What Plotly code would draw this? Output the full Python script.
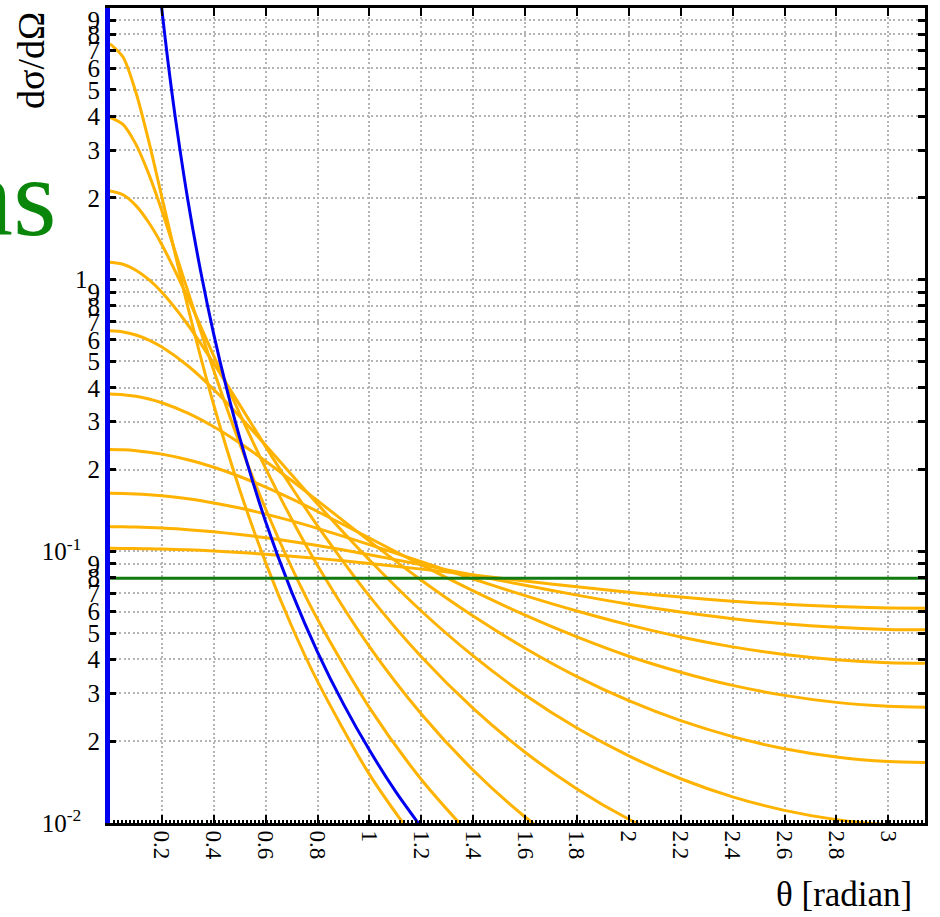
import plotly.graph_objects as go

# scattering angle grid (radian) shared by the screened curves
theta = [0, 0.05, 0.1, 0.15, 0.2, 0.3, 0.4, 0.5, 0.6, 0.7, 0.8, 1.0, 1.2,
         1.4, 1.6, 1.8, 2.0, 2.2, 2.4, 2.6, 2.8, 3.0, 3.1416]

# screened (Yukawa-type) angular distributions, strongest screening last
screened_1 = [7.38, 6.60, 4.885, 3.215, 2.014, 0.794, 0.3456, 0.1686, 0.0909, 0.0531, 0.0332, 0.0151, 0.00807]
screened_2 = [3.961, 3.730, 3.147, 2.441, 1.793, 0.9073, 0.4629, 0.2493, 0.1432, 0.0873, 0.0562, 0.0266, 0.01446, 0.00878]
screened_3 = [2.120, 2.054, 1.873, 1.620, 1.345, 0.8572, 0.5237, 0.3211, 0.2020, 0.1315, 0.0887, 0.0446, 0.0252,
              0.01564, 0.01052, 0.00757]
screened_4 = [1.158, 1.139, 1.083, 1.000, 0.8988, 0.6824, 0.4915, 0.3460, 0.2429, 0.1722, 0.1241, 0.0684, 0.0409,
              0.0264, 0.01822, 0.01335, 0.01032, 0.00837]
screened_5 = [0.648, 0.6423, 0.6255, 0.5990, 0.5647, 0.4820, 0.3943, 0.3137, 0.2458, 0.1914, 0.1493, 0.0929, 0.0603,
              0.0412, 0.0296, 0.02236, 0.01766, 0.01455, 0.01248, 0.01113, 0.01029, 0.00986, 0.00977]
screened_6 = [0.3791, 0.3773, 0.3721, 0.3636, 0.3522, 0.3226, 0.2874, 0.2504, 0.2147, 0.1822, 0.1537, 0.1090, 0.0783,
              0.0578, 0.0440, 0.0346, 0.0282, 0.0238, 0.0208, 0.01877, 0.01750, 0.01684, 0.01671]
screened_7 = [0.2370, 0.2364, 0.2347, 0.2318, 0.2279, 0.2174, 0.2039, 0.1886, 0.1723, 0.1560, 0.1402, 0.1120, 0.0891,
              0.0715, 0.0582, 0.0484, 0.0411, 0.0359, 0.0321, 0.0295, 0.0278, 0.0269, 0.0267]
screened_8 = [0.1635, 0.1633, 0.1627, 0.1616, 0.1601, 0.1561, 0.1507, 0.1443, 0.1371, 0.1294, 0.1215, 0.1059, 0.0916,
              0.0791, 0.0687, 0.0603, 0.0536, 0.0484, 0.0445, 0.0417, 0.0399, 0.0389, 0.0387]
screened_9 = [0.1232, 0.1231, 0.1228, 0.1224, 0.1218, 0.1202, 0.1180, 0.1153, 0.1122, 0.1087, 0.1050, 0.0972, 0.0893,
              0.0818, 0.0750, 0.0690, 0.0639, 0.0598, 0.0565, 0.0541, 0.0525, 0.0516, 0.0514]
screened_10 = [0.1026, 0.1025, 0.1024, 0.1022, 0.1020, 0.1013, 0.1003, 0.0990, 0.0976, 0.0960, 0.0942, 0.0902, 0.0860,
               0.0818, 0.0777, 0.0740, 0.0707, 0.0679, 0.0655, 0.0638, 0.0626, 0.0619, 0.0617]

# unscreened Coulomb (Rutherford) curve
theta_coulomb = [0.19, 0.2, 0.225, 0.25, 0.3, 0.35, 0.4, 0.45, 0.5, 0.6, 0.7, 0.8, 0.9, 1.0, 1.1, 1.2]
coulomb = [12.1, 9.87, 6.17, 4.06, 1.965, 1.067, 0.629, 0.396, 0.262, 0.1285, 0.0709, 0.0426, 0.0274,
           0.01855, 0.0131, 0.00964]

# isotropic limit 1/(4 pi)
theta_iso = [0, 3.1416]
isotropic = [0.0796, 0.0796]

# tick labels
x_tickvals = [0.2, 0.4, 0.6, 0.8, 1.0, 1.2, 1.4, 1.6, 1.8, 2.0, 2.2, 2.4, 2.6, 2.8, 3.0]
x_ticktext = ["0.2", "0.4", "0.6", "0.8", "1", "1.2", "1.4", "1.6", "1.8", "2", "2.2", "2.4", "2.6", "2.8", "3"]
y_tickvals = [m * 10.0 ** e for e in (-2, -1, 0) for m in range(1, 10)]
NB = "\u00a0"
y_ticktext = (["10<sup>-2</sup>" + NB * 3] + [str(m) for m in range(2, 10)]
              + ["10<sup>-1</sup>" + NB * 3] + [str(m) for m in range(2, 10)]
              + ["1" + NB * 2] + [str(m) for m in range(2, 10)])

ORANGE = "#FFB300"
BLUE = "#0000F0"
GREEN = "#117A11"
FONT = "Liberation Serif"

fig = go.Figure()

screened = [screened_1, screened_2, screened_3, screened_4, screened_5,
            screened_6, screened_7, screened_8, screened_9, screened_10]
for vals in screened:
    fig.add_trace(go.Scatter(x=theta[:len(vals)], y=vals, mode="lines",
                             line=dict(color=ORANGE, width=3, shape="spline", smoothing=0.8),
                             showlegend=False, hoverinfo="skip"))

fig.add_trace(go.Scatter(x=theta_coulomb, y=coulomb, mode="lines",
                         line=dict(color=BLUE, width=3, shape="spline", smoothing=0.8),
                         showlegend=False, hoverinfo="skip"))

fig.add_trace(go.Scatter(x=theta_iso, y=isotropic, mode="lines",
                         line=dict(color=GREEN, width=3),
                         showlegend=False, hoverinfo="skip"))

# carrier trace for the top/right frame axes
fig.add_trace(go.Scatter(x=[0.5], y=[0.1], mode="lines", xaxis="x2", yaxis="y2",
                         showlegend=False, hoverinfo="skip"))

grid = dict(showgrid=True, gridcolor="#b4b4b4", gridwidth=1.5, griddash="2px,2.5px")

fig.update_layout(
    width=940, height=917,
    margin=dict(l=110, r=15, t=8, b=94),
    paper_bgcolor="white", plot_bgcolor="white",
    font=dict(family=FONT, color="black", size=22),
    xaxis=dict(range=[0, 3.1416], tickvals=x_tickvals, ticktext=x_ticktext, tickangle=90,
               tickfont=dict(family=FONT, size=23), ticks="inside", ticklen=8, tickwidth=2,
               tickcolor="black", showline=True, linecolor="black", linewidth=3, mirror=False,
               zeroline=False, automargin=False,
               minor=dict(dtick=0.0155, tick0=0, ticks="inside", ticklen=3, tickwidth=2,
                          tickcolor="black", showgrid=False),
               **grid),
    yaxis=dict(type="log", range=[-2, 1], tickvals=y_tickvals, ticktext=y_ticktext,
               tickfont=dict(family=FONT, size=25), ticks="inside", ticklen=6, tickwidth=2.5,
               tickcolor="black", showline=True, linecolor=BLUE, linewidth=5, mirror=False,
               zeroline=False, automargin=False, **grid),
    xaxis2=dict(overlaying="x", side="top", anchor="y2", range=[0, 3.1416], tickvals=x_tickvals,
                showticklabels=False, ticks="inside", ticklen=8, tickwidth=2, tickcolor="black",
                showline=True, linecolor="black", linewidth=3, showgrid=False, zeroline=False),
    yaxis2=dict(overlaying="y", side="right", anchor="x2", type="log", range=[-2, 1],
                tickvals=y_tickvals, showticklabels=False, ticks="inside", ticklen=7, tickwidth=2.5,
                tickcolor="black", showline=True, linecolor="black", linewidth=3,
                showgrid=False, zeroline=False),
)

fig.add_annotation(text="d\u03c3/d\u03a9", xref="paper", yref="paper", x=-0.097, y=0.936,
                   xanchor="center", yanchor="middle", textangle=-90, showarrow=False,
                   font=dict(family=FONT, size=38, color="black"))
fig.add_annotation(text="\u03b8 [radian]", xref="paper", yref="paper", x=0.9865, y=-0.0883,
                   xanchor="right", yanchor="middle", showarrow=False,
                   font=dict(family=FONT, size=35, color="black"))
fig.add_annotation(text="ns", xref="paper", yref="paper", x=-0.0625, y=0.768,
                   xanchor="right", yanchor="middle", showarrow=False,
                   font=dict(family=FONT, size=112, color="#0a870a"))

fig.write_html("out.html")
